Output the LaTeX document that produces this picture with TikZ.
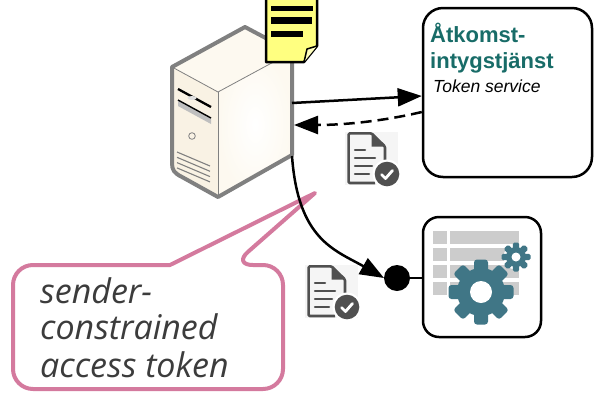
\documentclass[tikz,border=0pt]{standalone}
\usepackage{fontspec}
\setmainfont{Liberation Sans}
\newfontfamily\calloutfont{Open Sans}
\usetikzlibrary{arrows.meta}

\definecolor{titleteal}{RGB}{24,108,104}
\definecolor{gearc}{RGB}{64,118,134}
\definecolor{rowc}{RGB}{204,204,204}
\definecolor{pinkc}{RGB}{212,122,158}
\definecolor{notey}{RGB}{255,255,128}
\definecolor{notefold}{RGB}{255,255,190}
\definecolor{srvedge}{RGB}{128,128,128}
\definecolor{creamA}{RGB}{253,249,240}
\definecolor{creamB}{RGB}{249,242,228}
\definecolor{iconc}{RGB}{80,80,80}
\definecolor{textg}{RGB}{60,60,60}

\tikzset{
  panel/.style={draw=black, line width=2.5pt, fill=white, rounded corners=18pt, inner sep=0pt},
  conn/.style={line width=2.5pt, black},
  bigtip/.style={-{Triangle[length=24pt,width=18pt]}},
  docicon/.pic={
    % light backdrop
    \fill[black!4] (0,0) rectangle (53,53);
    % page with folded corner
    \draw[iconc, line width=2.6pt, line join=round, rounded corners=1.2pt]
      (30,51) -- (3.6,51) -- (3.6,1.3) -- (26.5,1.3) -- (40,14.5) -- (40,31);
    \fill[iconc] (26.5,1.3) -- (26.5,14.5) -- (40,14.5) -- cycle;
    % text lines
    \draw[iconc, line width=2.5pt, line cap=round]
      (10,18) -- (20,18)
      (10,26) -- (30,26)
      (10,34) -- (27,34)
      (10,42) -- (24,42);
    % check badge
    \fill[white] (42,42) circle (14.5);
    \fill[iconc] (42,42) circle (12.3);
    \draw[white, line width=2.8pt, line cap=round, line join=round]
      (36.5,42.5) -- (40.5,46.5) -- (47.5,38.5);
  }
}

\begin{document}
\begin{tikzpicture}[x=1pt,y=-1pt]
\useasboundingbox (0,0) rectangle (595,392);

% ---------- client server (tower) ----------
\fill[creamA] (172,67) -- (245,27) -- (292,52) -- (218,92) -- cycle;
\shade[inner color=white, outer color=creamA]
  (218,92) -- (292,52) -- (292,155) -- (218,197) -- cycle;
\fill[creamB] (172,67) -- (218,92) -- (218,197) -- (182,177)
  .. controls (174,173) and (172,170) .. (172,163) -- cycle;
\draw[srvedge, line width=0.8pt] (172,67) -- (218,92) -- (292,52);
\draw[srvedge, line width=0.8pt] (218,92) -- (218,197);
% drive bays, power button and vents
\draw[black, line width=2.3pt] (178,89) -- (211,107);
\fill[black!12] (192,98) ellipse (4.5 and 2);
\fill[black!25] (178,100) -- (211,118) -- (211,124) -- (178,106) -- cycle;
\draw[black, line width=1.4pt] (178,100) -- (211,118);
\draw[srvedge, line width=0.8pt] (192,136) circle (3.3);
\foreach \k in {0,...,3}
  \draw[srvedge, line width=1.1pt] (177,152+5.3*\k) -- (210,166+5.3*\k);
% outline
\draw[srvedge, line width=4pt, line join=round]
  (172,67) -- (245,27) -- (292,52) -- (292,155) -- (218,197) -- (182,177)
  .. controls (174,173) and (172,170) .. (172,163) -- cycle;

% ---------- note on top of the server ----------
\filldraw[fill=notey, draw=black, line width=2.5pt, line join=round]
  (266,-4) -- (317,-4) -- (317,46) -- (304,62) -- (266,62) -- cycle;
\filldraw[fill=notefold, draw=black, line width=1.5pt, line join=round]
  (304,62) -- (307,49) -- (317,46);
\fill[black] (271,6) rectangle (313,11);
\fill[black] (271,17) rectangle (312,24);
\fill[black] (271,31) rectangle (303,37);

% ---------- callout ----------
\draw[pinkc, fill=white, line width=4pt, line join=round]
  (100,265) [rounded corners=20pt] -- (13,265) -- (13,389) -- (283,389) -- (283,265)
  -- (233,265) [sharp corners] -- (315,193) -- (170,265) -- cycle;
\begin{scope}[every node/.style={anchor=base west, inner sep=0pt, text=textg,
    font=\calloutfont\itshape\fontsize{34}{37}\selectfont}]
  \node (cl1) at (40,303) {sender-};
  \node (cl2) at (40,339) {constrained};
  \node (cl3) at (40,377) {access token};
\end{scope}

% ---------- token service ----------
\node[panel, rounded corners=20pt, minimum width=169pt, minimum height=169pt] (tok) at (507.5,92.5) {};
\node[anchor=base west, inner sep=0pt, text=titleteal, font=\fontsize{22}{26}\selectfont\bfseries]
  (tokT1) at (430,42) {Åtkomst-};
\node[anchor=base west, inner sep=0pt, text=titleteal, font=\fontsize{22}{26}\selectfont\bfseries]
  (tokT2) at (430,68) {intygstjänst};
\node[anchor=base west, inner sep=0pt, font=\fontsize{17.5}{22}\selectfont\itshape]
  (tokT3) at (433,92) {Token service};

% ---------- resource server ----------
\node[panel, rounded corners=16pt, minimum width=118pt, minimum height=120pt] (res) at (482,277) {};
\foreach \y in {231,248,265,282} {
  \fill[rowc] (433,\y) rectangle (447,\y+13);
  \fill[rowc] (450,\y) rectangle (519,\y+13);
}
\begin{scope}[shift={(516,257)}]
  \fill[white] (0,0) circle (12.5);
  \fill[gearc] (0,0) circle (10);
  \foreach \a in {0,45,...,315}
    \fill[gearc, rotate=\a, rounded corners=1.5pt] (-3.2,-8) rectangle (3.2,-14.5);
  \fill[white] (0,0) circle (4.5);
\end{scope}
\begin{scope}[shift={(481,292)}]
  \fill[gearc] (0,0) circle (24);
  \foreach \a in {0,45,...,315}
    \fill[gearc, rotate=\a, rounded corners=3pt] (-7,-18) rectangle (7,-32.5);
  \fill[white] (0,0) circle (11);
\end{scope}

% ---------- token icons ----------
\pic (doc1) at (345,132) {docicon};
\pic (doc2) at (305,265) {docicon};

% ---------- connectors ----------
\coordinate (srvOut) at (292,103);
\coordinate (srvIn) at (294,125);
\coordinate (srvLow) at (292,156);
\node[circle, fill=black, minimum size=26pt, inner sep=0pt, outer sep=0pt] (ball) at (397,278) {};

\draw[conn, bigtip] (srvOut) -- ([yshift=-3.5pt]tok.west);
\draw[conn, bigtip, dash pattern=on 11pt off 6pt]
  ([yshift=-19.5pt]tok.west) .. controls (375,123) and (335,125) .. (srvIn);
\draw[conn, bigtip] (srvLow) .. controls (298,240) and (335,250) .. (ball.west);
\draw[conn] (ball) -- (ball -| res.west);
\end{tikzpicture}
\end{document}
